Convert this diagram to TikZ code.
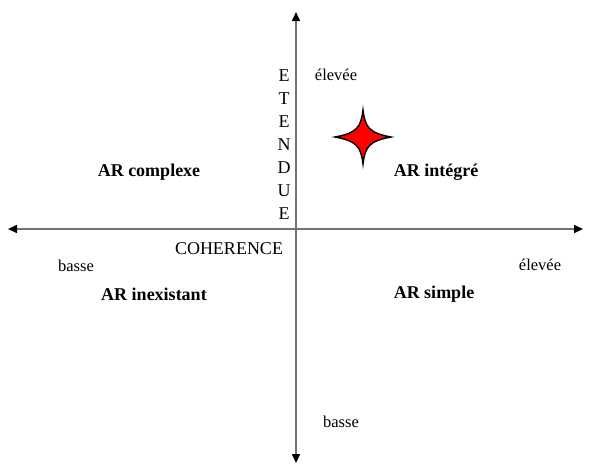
\documentclass[tikz,border=0pt]{standalone}
\usepackage{fontspec}
\setmainfont{Liberation Serif}
\usetikzlibrary{arrows.meta}
\begin{document}
\begin{tikzpicture}[x=1pt,y=-1pt,
  axis/.style={draw=black!55, line width=1.6pt, {Triangle[color=black,length=9pt,width=8pt]}-{Triangle[color=black,length=9pt,width=8pt]}},
  lab/.style={font=\fontsize{16.5}{18}\selectfont, inner sep=0pt},
  quad/.style={font=\fontsize{18}{20}\selectfont\bfseries, inner sep=0pt},
  letter/.style={font=\fontsize{18}{20}\selectfont, inner sep=0pt}]
\useasboundingbox (0,0) rectangle (589,467);
\coordinate (L) at (8,229);
\coordinate (R) at (583,229);
\coordinate (T) at (296,12);
\coordinate (B) at (296,463);
\draw[axis] (L) -- (R);
\draw[axis] (B) -- (T);
\node[lab] (eleveeT) at (336,75) {élevée};
\node[lab] (basseB) at (341,422) {basse};
\node[lab] (basseL) at (76,266) {basse};
\node[lab] (eleveeR) at (540,265) {élevée};
\node[letter] (coh) at (229,249) {COHERENCE};
\foreach \c [count=\i] in {E,T,E,N,D,U,E} {
  \node[letter] (e\i) at (284,{76+23*(\i-1)}) {\c};
}
\node[quad] (q1) at (149,172) {AR complexe};
\node[quad] (q2) at (436,172) {AR intégré};
\node[quad] (q3) at (154,294) {AR inexistant};
\node[quad] (q4) at (434,294) {AR simple};
\draw[fill=red, draw=black, line width=1.4pt, line join=miter]
  (363,110) .. controls (365,127) and (369,133) .. (391,137)
  .. controls (369,141) and (365,147) .. (363,164)
  .. controls (361,147) and (357,141) .. (335,137)
  .. controls (357,133) and (361,127) .. (363,110) -- cycle;
\end{tikzpicture}
\end{document}
